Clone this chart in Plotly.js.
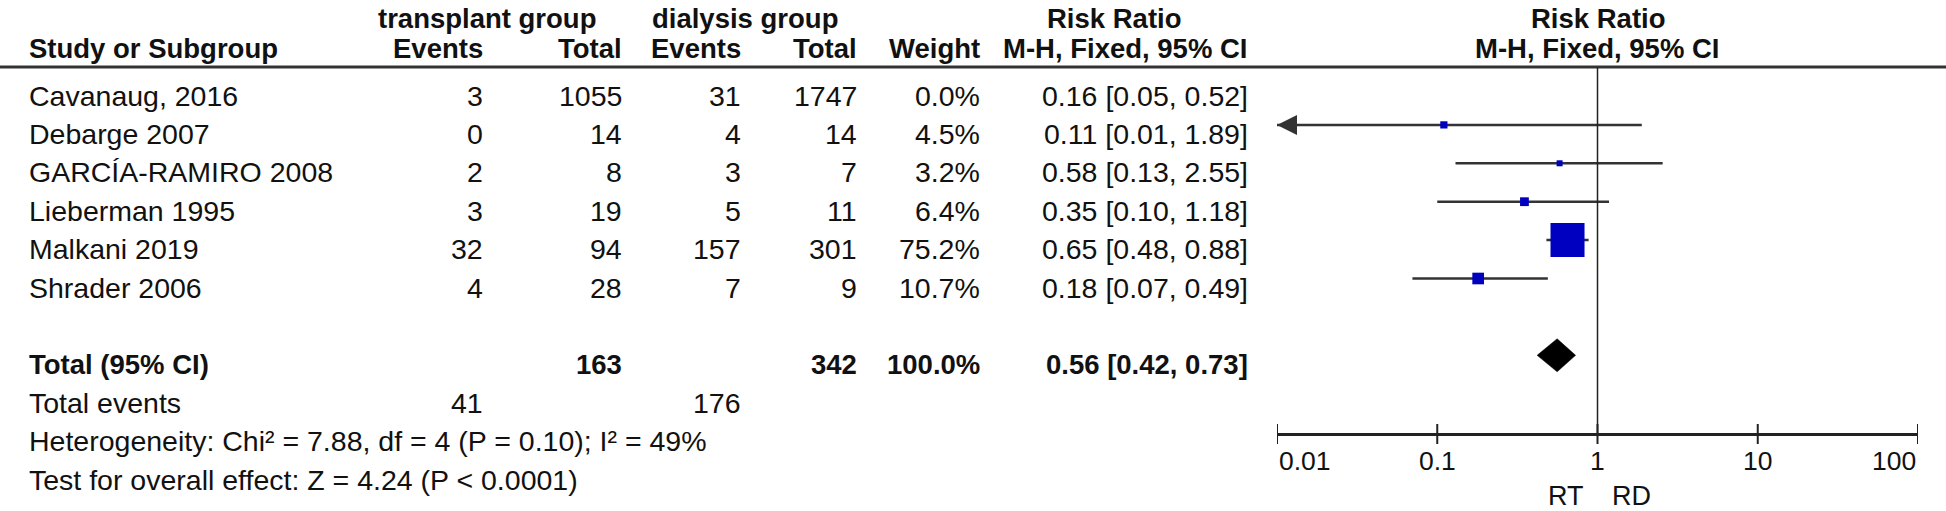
<!DOCTYPE html>
<html><head><meta charset="utf-8">
<script src="https://cdn.plot.ly/plotly-3.0.1.min.js"></script>
<style>html,body{margin:0;padding:0;background:#fff;overflow:hidden}</style>
</head><body><div id="chart" style="width:1946px;height:511px"></div>
<script>
// ---- data ----
const studies = ["Cavanaug, 2016","Debarge 2007","GARCÍA-RAMIRO 2008","Lieberman 1995","Malkani 2019","Shrader 2006"];
const txEvents = [3,0,2,3,32,4];
const txTotal = [1055,14,8,19,94,28];
const dxEvents = [31,4,3,5,157,7];
const dxTotal = [1747,14,7,11,301,9];
const weights = [0.0,4.5,3.2,6.4,75.2,10.7];
const rr = [0.16,0.11,0.58,0.35,0.65,0.18];
const ciLow = [0.05,0.01,0.13,0.10,0.48,0.07];
const ciHigh = [0.52,1.89,2.55,1.18,0.88,0.49];
const totalTx = 163, totalDx = 342, totalWeight = 100.0;
const totalRR = 0.56, totalLow = 0.42, totalHigh = 0.73;
const totalEventsTx = 41, totalEventsDx = 176;
const heterogeneityText = "Heterogeneity: Chi² = 7.88, df = 4 (P = 0.10); I² = 49%";
const overallText = "Test for overall effect: Z = 4.24 (P < 0.0001)";
const tickVals = [0.01,0.1,1,10,100];
const tickText = ["0.01","0.1","1","10","100"];
const axisRange = [0.01, 100];
const favours = ["RT","RD"];

// ---- layout geometry ----
const W = 1946, H = 511;
const FONT = "'Liberation Sans', Arial, sans-serif";
const FS = 28.5, FSB = 27.5, FST = 26.5;
const textRow0 = 95.5, rowStep = 38.4, markOffset = -9;
const headerY1 = 18, headerY2 = 48, headerLineY = 67, axisY = 434, tickLabelY = 461;
const col = {study: 27, txE: 485, txT: 624, dxE: 743, dxT: 859, wt: 982, ci: 1250};
const plotL = 1277, plotR = 1918, plotC = (plotL + plotR) / 2;
const textY = i => textRow0 + rowStep * i;
const markY = i => textY(i) + markOffset;

const fx = v => v.toFixed(2);
const ciStr = (e, l, h) => `${fx(e)} [${fx(l)}, ${fx(h)}]`;

const ann = [];
function t(x, y, s, anchor, bold) {
  ann.push({xref:'paper', yref:'y', x: x / W, y: y, text: bold ? `<b>${s}</b>` : s,
    showarrow:false, xanchor: anchor, yanchor:'middle',
    font:{family:FONT, size: bold ? FSB : FS, color:'#111'}});
}
// headers
t(487, headerY1, "transplant group", 'center', true);
t(745, headerY1, "dialysis group", 'center', true);
t(1114, headerY1, "Risk Ratio", 'center', true);
t(plotC, headerY1, "Risk Ratio", 'center', true);
t(col.study, headerY2, "Study or Subgroup", 'left', true);
t(col.txE, headerY2, "Events", 'right', true);
t(col.txT, headerY2, "Total", 'right', true);
t(col.dxE, headerY2, "Events", 'right', true);
t(col.dxT, headerY2, "Total", 'right', true);
t(col.wt, headerY2, "Weight", 'right', true);
t(col.ci, headerY2, "M-H, Fixed, 95% CI", 'right', true);
t(plotC, headerY2, "M-H, Fixed, 95% CI", 'center', true);
// rows
studies.forEach((s, i) => {
  const y = textY(i);
  t(col.study, y, s, 'left');
  t(col.txE, y, String(txEvents[i]), 'right');
  t(col.txT, y, String(txTotal[i]), 'right');
  t(col.dxE, y, String(dxEvents[i]), 'right');
  t(col.dxT, y, String(dxTotal[i]), 'right');
  t(col.wt, y, weights[i].toFixed(1) + "%", 'right');
  t(col.ci, y, ciStr(rr[i], ciLow[i], ciHigh[i]), 'right');
});
const totRow = studies.length + 1;
t(col.study, textY(totRow), "Total (95% CI)", 'left', true);
t(col.txT, textY(totRow), String(totalTx), 'right', true);
t(col.dxT, textY(totRow), String(totalDx), 'right', true);
t(col.wt, textY(totRow), totalWeight.toFixed(1) + "%", 'right', true);
t(col.ci, textY(totRow), ciStr(totalRR, totalLow, totalHigh), 'right', true);
t(col.study, textY(totRow + 1), "Total events", 'left');
t(col.txE, textY(totRow + 1), String(totalEventsTx), 'right');
t(col.dxE, textY(totRow + 1), String(totalEventsDx), 'right');
t(col.study, textY(totRow + 2), heterogeneityText, 'left');
t(col.study, textY(totRow + 3), overallText, 'left');
ann.push({xref:'paper', yref:'y', x:(plotC - 12) / W, y:496, text:favours[0], showarrow:false,
  xanchor:'right', yanchor:'middle', font:{family:FONT, size:FST + 0.5, color:'#111'}});
ann.push({xref:'paper', yref:'y', x:(plotC + 12) / W, y:496, text:favours[1], showarrow:false,
  xanchor:'left', yanchor:'middle', font:{family:FONT, size:FST + 0.5, color:'#111'}});

// axis tick labels (end labels kept inside the axis, as in RevMan)
tickVals.forEach((v, k) => {
  const anchor = k === 0 ? 'left' : (k === tickVals.length - 1 ? 'right' : 'center');
  ann.push({xref:'x', yref:'y', x: Math.log10(v), y: tickLabelY, text: tickText[k],
    showarrow:false, xanchor: anchor, yanchor:'middle',
    font:{family:FONT, size:FST, color:'#111'}});
});

// arrows for CIs clipped at the axis range
studies.forEach((s, i) => {
  if (weights[i] > 0 && ciLow[i] <= axisRange[0]) {
    ann.push({xref:'x', yref:'y', x: Math.log10(axisRange[0]) + 1e-9, y: markY(i), text:'',
      showarrow:true, ax: 14, ay: 0, arrowhead: 2, arrowsize: 2, arrowwidth: 2,
      arrowcolor:'#333', standoff: 0});
  }
});

// ---- traces ----
const lx = [], ly = [], sx = [], sy = [], ss = [];
studies.forEach((s, i) => {
  if (weights[i] <= 0) return;
  lx.push(Math.max(ciLow[i], axisRange[0]), Math.min(ciHigh[i], axisRange[1]), null);
  ly.push(markY(i), markY(i), null);
  sx.push(rr[i]); sy.push(markY(i)); ss.push(3.16 * Math.pow(weights[i], 0.55));
});
const dY = markY(totRow), dH = 16.5;
const traces = [
  {type:'scatter', mode:'lines', x: lx, y: ly, xaxis:'x', yaxis:'y',
   line:{color:'#333', width:2.5}, hoverinfo:'skip', showlegend:false},
  {type:'scatter', mode:'markers', x: sx, y: sy, xaxis:'x', yaxis:'y',
   marker:{symbol:'square', size: ss, color:'#0000c0', opacity:1, line:{width:0}},
   hoverinfo:'skip', showlegend:false},
  {type:'scatter', mode:'lines', fill:'toself', xaxis:'x', yaxis:'y',
   x:[totalLow, totalRR, totalHigh, totalRR, totalLow],
   y:[dY, dY - dH, dY, dY + dH, dY],
   fillcolor:'#000', line:{color:'#000', width:0.5}, hoverinfo:'skip', showlegend:false}
];

// ---- shapes ----
const shapes = [
  {type:'line', xref:'paper', yref:'y', x0:0, x1:1, y0:headerLineY, y1:headerLineY,
   line:{color:'#333', width:3}},
  {type:'line', xref:'x', yref:'y', x0:1, x1:1, y0:headerLineY, y1:axisY,
   line:{color:'#222', width:1.5}}
];
tickVals.forEach(v => shapes.push({type:'line', xref:'x', yref:'y', x0:v, x1:v,
  y0:axisY - 10, y1:axisY + 10, line:{color:'#222', width:2}}));

const layout = {
  width: W, height: H, margin:{l:0, r:0, t:0, b:0},
  paper_bgcolor:'#fff', plot_bgcolor:'rgba(0,0,0,0)', showlegend:false,
  xaxis:{type:'log', range:[Math.log10(axisRange[0]), Math.log10(axisRange[1])],
    domain:[plotL / W, plotR / W], anchor:'free', position: 1 - axisY / H,
    showline:true, linecolor:'#222', linewidth:2.5, ticks:'',
    tickvals: tickVals, showticklabels:false, showgrid:false, zeroline:false,
    fixedrange:true},
  yaxis:{domain:[0,1], range:[H, 0], visible:false, fixedrange:true},
  annotations: ann, shapes: shapes
};
Plotly.newPlot('chart', traces, layout, {staticPlot:true, displayModeBar:false});
</script></body></html>
